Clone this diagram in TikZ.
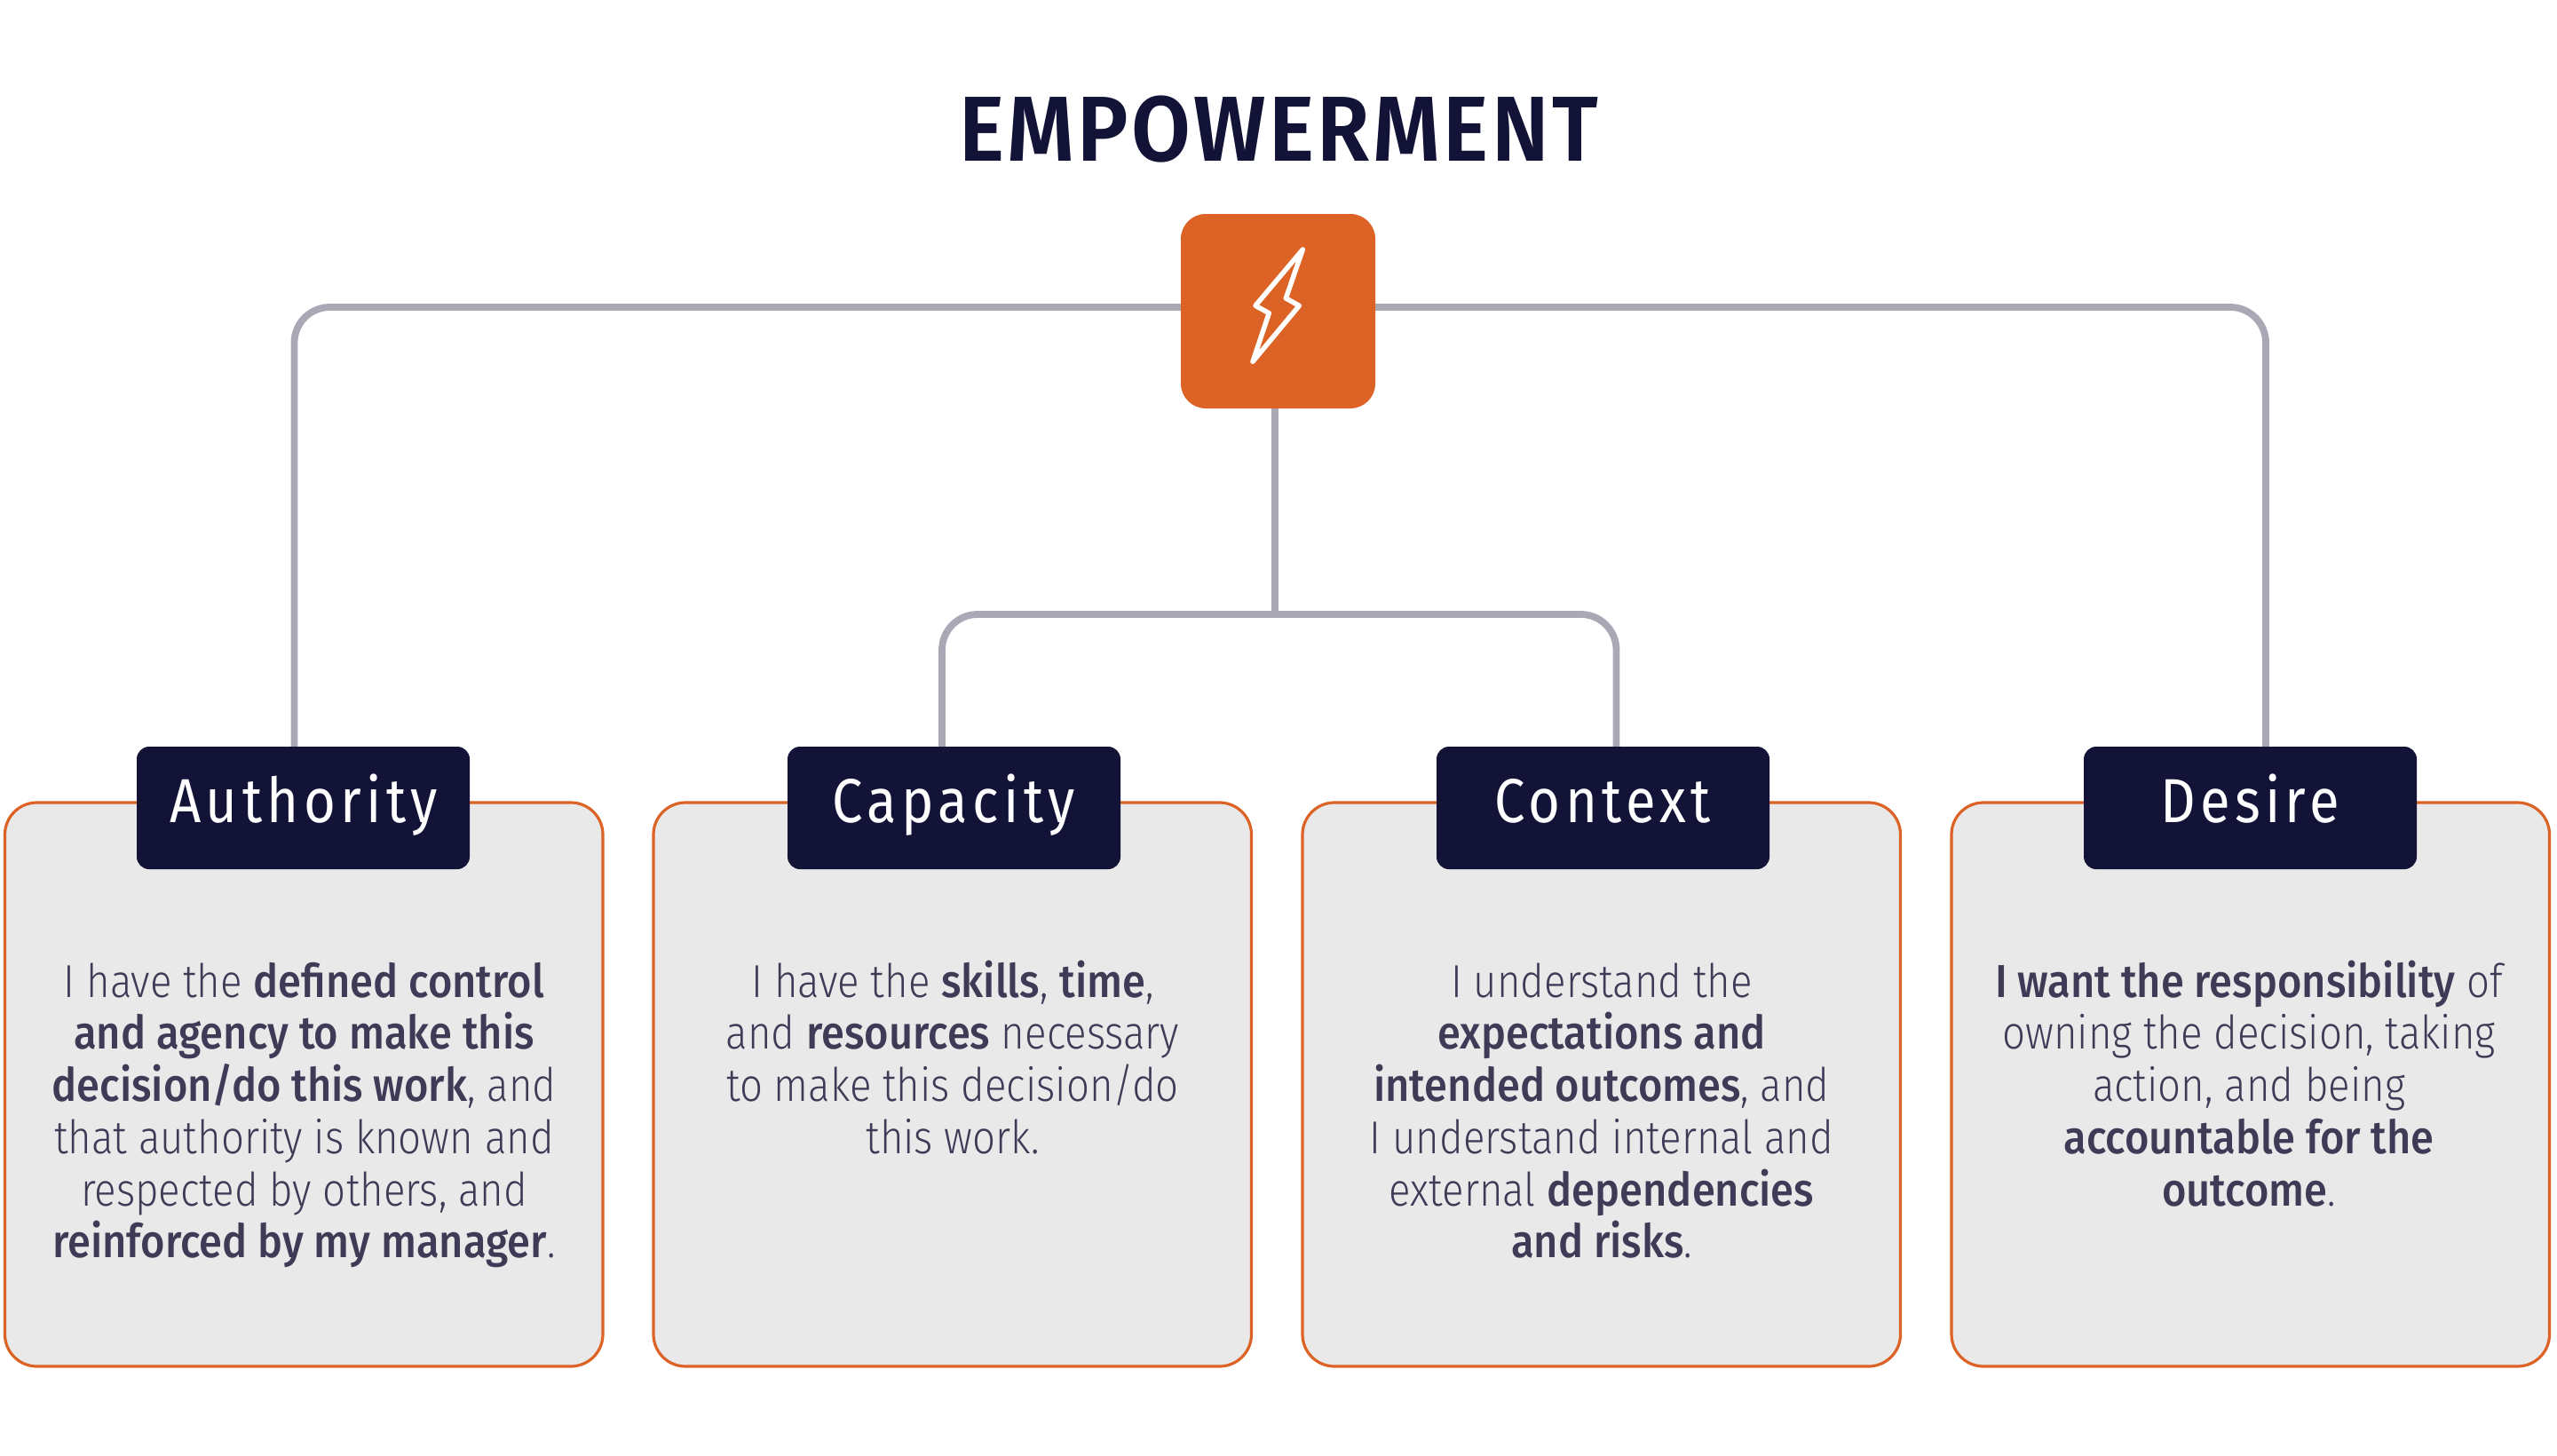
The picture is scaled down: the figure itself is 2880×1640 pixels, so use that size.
\documentclass[tikz,border=0pt]{standalone}
\usepackage{fontspec}
\usetikzlibrary{backgrounds}
\newfontfamily\bodyfont{Fira Sans Light}[BoldFont={Fira Sans Medium},UprightFeatures={FakeStretch=0.877},BoldFeatures={FakeStretch=0.905}]
\newfontfamily\tagfont{Fira Sans}[FakeStretch=0.88,LetterSpace=7.6]
\newfontfamily\titlefont{Fira Sans SemiBold}[FakeStretch=0.93,LetterSpace=3.2]
\definecolor{navy}{HTML}{121337}
\definecolor{orangec}{HTML}{DC6325}
\definecolor{linec}{HTML}{ABA8B5}
\definecolor{bodyc}{HTML}{3F3B57}
\definecolor{panelc}{HTML}{E9E9EA}
\tikzset{
 x=1pt,y=-1pt,
 panel/.style={draw=orangec,line width=3.2pt,fill=panelc,rounded corners=36pt,minimum width=673.5pt,minimum height=635pt,inner sep=0pt,outer sep=0pt,anchor=north west},
 tagbox/.style={fill=navy,rounded corners=14pt,minimum width=375pt,minimum height=138pt,inner sep=0pt,outer sep=0pt,anchor=north west},
 tagtext/.style={text=white,font=\tagfont\fontsize{70pt}{70pt}\selectfont,inner sep=0pt,anchor=base},
 bodytext/.style={text=bodyc,align=center,inner sep=0pt,anchor=north,font=\bodyfont\fontsize{52pt}{58.7pt}\selectfont},
 conn/.style={draw=linec,line width=7.8pt,rounded corners=40pt},
}
\newcommand{\fl}{\rule{0pt}{50pt}}
\begin{document}
\begin{tikzpicture}
\useasboundingbox (0,0) rectangle (2880,1640);
\node[text=navy,font=\titlefont\fontsize{104pt}{104pt}\selectfont,inner sep=0pt,anchor=base] (title) at (1440,182) {EMPOWERMENT};
% panels
\node[panel] (pa) at (5.5,904) {};
\node[panel] (pb) at (736,904) {};
\node[panel] (pc) at (1467,904) {};
\node[panel] (pd) at (2198,904) {};
% tags
\node[tagbox] (ta) at (154,841) {};
\node[tagbox] (tb) at (887,841) {};
\node[tagbox] (tc) at (1618,841) {};
\node[tagbox] (td) at (2347,841) {};
\node[tagtext] (la) at (342,926) {Authority};
\node[tagtext] (lb) at (1074,926) {Capacity};
\node[tagtext] (lc) at (1805,926) {Context};
\node[tagtext] (ld) at (2534,926) {Desire};
% icon
\node[fill=orangec,rounded corners=28pt,minimum size=219pt,inner sep=0pt,outer sep=0pt] (icon) at (1439.5,350.5) {};
\draw[white,line width=5.5pt,line join=round] (1467.3,281) -- (1448.3,336) -- (1463.3,344.3) -- (1411,407.3) -- (1429.3,352.7) -- (1414,344.3) -- cycle;
% connectors
\coordinate (hub) at (1436,692);
\begin{scope}[on background layer]
\draw[conn] ([yshift=4.5pt]icon.west) -| ([xshift=-10pt]ta.north);
\draw[conn] ([yshift=4.5pt]icon.east) -| ([xshift=17.5pt]td.north);
\draw[conn,rounded corners=0pt] ([xshift=-3.5pt]icon.south) -- (hub);
\draw[conn] (hub) -| ([xshift=-13.5pt]tb.north);
\draw[conn] (hub) -| ([xshift=15pt]tc.north);
\end{scope}
% body text
\node[bodytext] (ba) at (342.5,1073) {\fl I have the \textbf{defined control}\\\textbf{and agency to make this}\\\textbf{decision/do this work}, and\\that authority is known and\\respected by others, and\\\textbf{reinforced by my manager}.};
\node[bodytext] (bb) at (1073,1073) {\fl I have the \textbf{skills}, \textbf{time},\\and \textbf{resources} necessary\\to make this decision/do\\this work.};
\node[bodytext] (bc) at (1804,1073) {\fl I understand the\\\textbf{expectations and}\\\textbf{intended outcomes}, and\\I understand internal and\\external \textbf{dependencies}\\\textbf{and risks}.};
\node[bodytext] (bd) at (2533,1073) {\fl\textbf{I want the responsibility} of\\owning the decision, taking\\action, and being\\\textbf{accountable for the}\\\textbf{outcome}.};
\end{tikzpicture}
\end{document}
